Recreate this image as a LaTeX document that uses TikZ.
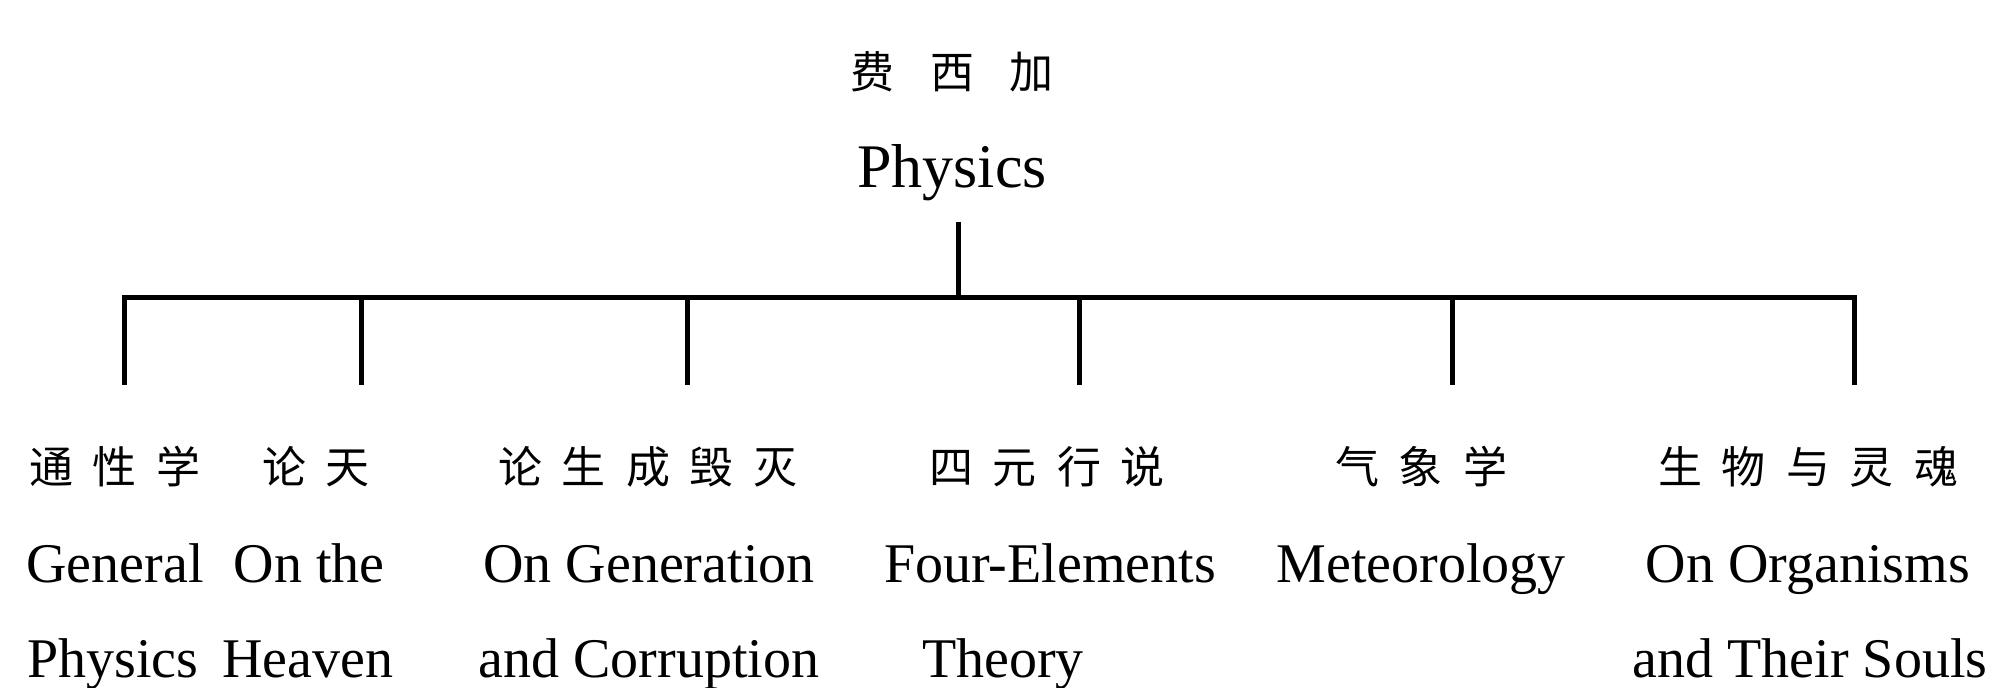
\documentclass[tikz,border=0pt]{standalone}
\usepackage{fontspec}
\setmainfont{Liberation Serif}
\newfontfamily\cjk{Noto Sans CJK SC}
\newcommand\gp{\hskip 10pt}
\begin{document}
\begin{tikzpicture}[x=0.5pt,y=-0.5pt,
  conn/.style={line width=2.5pt, line cap=rect},
  zhlab/.style={font=\cjk\fontsize{22pt}{26pt}\selectfont, inner sep=0pt},
  enlab/.style={font=\fontsize{28pt}{32pt}\selectfont, anchor=base, inner sep=0pt},
  titlelab/.style={font=\fontsize{31pt}{34pt}\selectfont, anchor=base, inner sep=0pt}]
\useasboundingbox (0,0) rectangle (2003,688);
% title
\node[zhlab] (tzh) at (952,72) {费\hskip18pt 西\hskip18pt 加};
\node[titlelab] (ten) at (952,188) {Physics};
% bus coordinates
\coordinate (top) at (958,225);
\coordinate (mid) at (958,298);
\coordinate (b1) at (124,298);
\coordinate (b2) at (361,298);
\coordinate (b3) at (687,298);
\coordinate (b4) at (1079,298);
\coordinate (b5) at (1452,298);
\coordinate (b6) at (1854,298);
\coordinate (d1) at (124,383);
\coordinate (d2) at (361,383);
\coordinate (d3) at (687,383);
\coordinate (d4) at (1079,383);
\coordinate (d5) at (1452,383);
\coordinate (d6) at (1854,383);
\draw[conn] (top) -- (mid);
\draw[conn] (d1) -- (b1) -- (b6) -- (d6);
\draw[conn] (b2) -- (d2);
\draw[conn] (b3) -- (d3);
\draw[conn] (b4) -- (d4);
\draw[conn] (b5) -- (d5);
% children
\node[zhlab] (c1zh) at (115,467) {通\gp 性\gp 学};
\node[enlab] (c1a) at (115,583) {General};
\node[enlab] (c1b) at (113,678) {Physics};
\node[zhlab] (c2zh) at (316,467) {论\gp 天};
\node[enlab] (c2a) at (309,583) {On the};
\node[enlab] (c2b) at (308,678) {Heaven};
\node[zhlab] (c3zh) at (648,467) {论\gp 生\gp 成\gp 毁\gp 灭};
\node[enlab] (c3a) at (649,583) {On Generation};
\node[enlab] (c3b) at (649,678) {and Corruption};
\node[zhlab] (c4zh) at (1047,467) {四\gp 元\gp 行\gp 说};
\node[enlab] (c4a) at (1050,583) {Four-Elements};
\node[enlab] (c4b) at (1003,678) {Theory};
\node[zhlab] (c5zh) at (1421,467) {气\gp 象\gp 学};
\node[enlab] (c5a) at (1421,583) {Meteorology};
\node[zhlab] (c6zh) at (1808,467) {生\gp 物\gp 与\gp 灵\gp 魂};
\node[enlab] (c6a) at (1808,583) {On Organisms};
\node[enlab] (c6b) at (1810,678) {and Their Souls};
\end{tikzpicture}
\end{document}
